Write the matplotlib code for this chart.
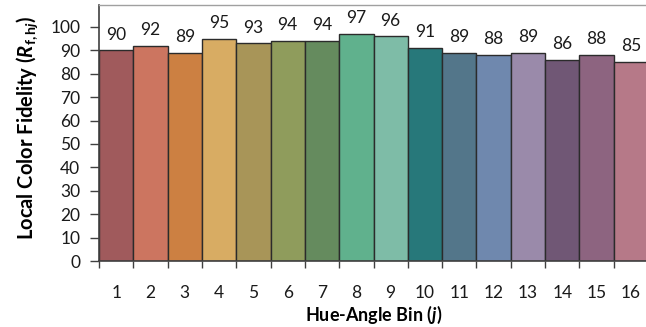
import matplotlib.pyplot as plt
import numpy as np

# Datos
bins = [str(i) for i in range(1, 17)]
fidelity = [90, 92, 89, 95, 93, 94, 94, 97, 96, 91, 89, 88, 89, 86, 88, 85]
bar_colors = [
    "#A05A5C", "#CC7560", "#CC8042", "#D8AC63",
    "#A89558", "#8F9C5C", "#658B5E", "#60B18D",
    "#7EBCA7", "#27787A", "#53768A", "#6F88AE",
    "#9A8AAA", "#705775", "#8D6480", "#B67988",
]
yticks = list(range(0, 101, 10))

plt.rcParams["font.family"] = ["Lato", "DejaVu Sans"]
plt.rcParams["mathtext.fontset"] = "custom"
plt.rcParams["mathtext.rm"] = "Lato:bold"
plt.rcParams["mathtext.it"] = "Lato:italic:bold"
plt.rcParams["mathtext.bf"] = "Lato:bold"

fig = plt.figure(figsize=(6.46, 3.27), dpi=100)
ax = fig.add_axes([99 / 646, 66 / 327, 549 / 646, 256 / 327])

x = np.arange(len(fidelity))
ax.bar(x, fidelity, width=1.0, color=bar_colors, edgecolor="#2b2b2b", linewidth=1.0, zorder=2)

# Etiquetas de valores
for xi, v in zip(x, fidelity):
    ax.text(xi, v + 3.3, str(v), ha="center", va="bottom", fontsize=12.5, color="#1a1a1a",
            bbox=dict(facecolor="white", edgecolor="none", pad=2.0), zorder=3)

ax.set_xlim(-0.5, len(fidelity) - 0.5)
ax.set_ylim(0, 109.4)

ax.set_yticks(yticks)
ax.set_yticklabels([str(t) for t in yticks], fontsize=12.5, color="#1a1a1a")
ax.tick_params(axis="y", direction="out", length=6.5, width=1, color="#404040", pad=7)

ax.set_xticks(x)
ax.set_xticklabels(bins, fontsize=12.5, color="#1a1a1a")
ax.tick_params(axis="x", which="major", length=0, pad=17)
ax.set_xticks(np.arange(-0.5, len(fidelity), 1.0), minor=True)
ax.tick_params(axis="x", which="minor", direction="out", length=5, width=1, color="#404040")

for s in ["left", "bottom"]:
    ax.spines[s].set_color("#404040")
    ax.spines[s].set_linewidth(1.2)
ax.spines["top"].set_color("#a0a0a0")
ax.spines["top"].set_linewidth(1.0)
ax.spines["right"].set_visible(False)

ax.set_ylabel(r"Local Color Fidelity ($R_{\mathrm{f,h}j}$)", fontsize=14.5, fontweight="bold")
ax.yaxis.set_label_coords(-0.107, 0.52)
ax.set_xlabel(r"Hue-Angle Bin ($j$)", fontsize=13, fontweight="bold")
ax.xaxis.set_label_coords(0.5, -0.168)

fig.savefig("out.png", dpi=100)
